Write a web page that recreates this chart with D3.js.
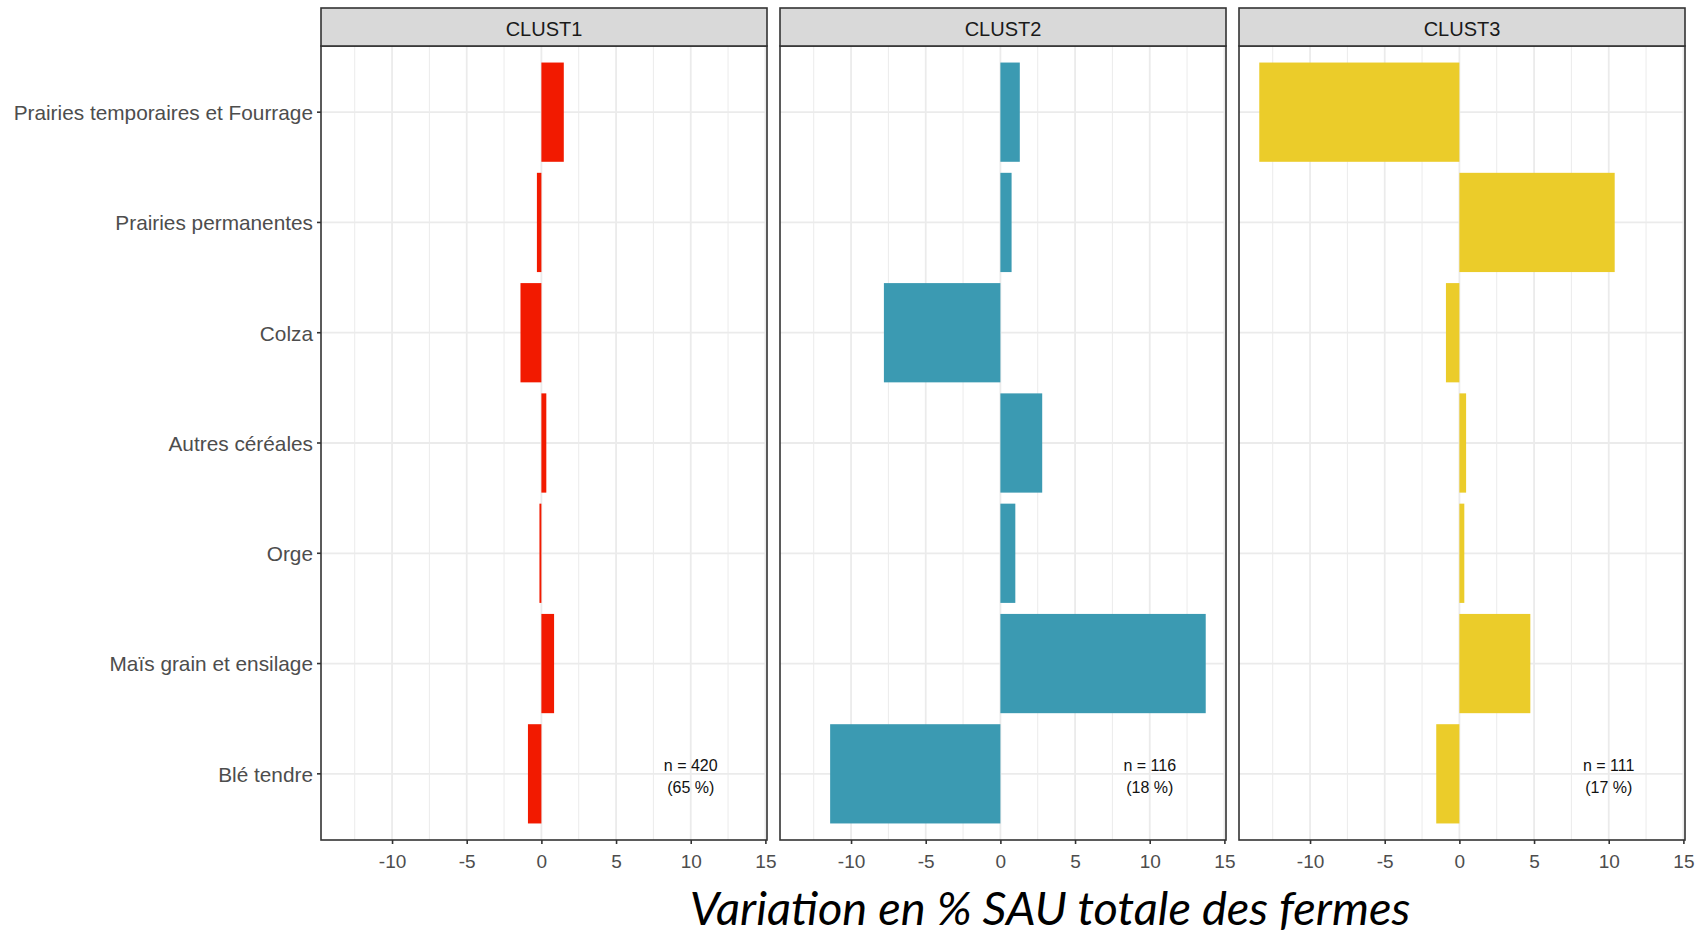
<!DOCTYPE html>
<html>
<head>
<meta charset="utf-8">
<script src="https://cdn.jsdelivr.net/npm/d3@7"></script>
<style>
  body { margin: 0; background: #fff; }
  text { font-family: "Liberation Sans", Arial, sans-serif; }
</style>
</head>
<body>
<div id="chart-container"></div>
<script>
// categories, top to bottom
const categories = ["Prairies temporaires et Fourrage", "Prairies permanentes", "Colza",
                    "Autres céréales", "Orge", "Maïs grain et ensilage", "Blé tendre"];
const clusters = ["CLUST1", "CLUST2", "CLUST3"];
const clust1 = [1.5, -0.3, -1.4, 0.33, -0.13, 0.85, -0.9];
const clust2 = [1.3, 0.75, -7.8, 2.8, 1.0, 13.75, -11.4];
const clust3 = [-13.4, 10.4, -0.9, 0.45, 0.33, 4.75, -1.55];
const nCounts = [420, 116, 111];
const nPct = [65, 18, 17];
const colors = ["#F21A00", "#3B9AB2", "#EBCC2A"];
const xTicks = [-10, -5, 0, 5, 10, 15];
const xMinor = [-12.5, -7.5, -2.5, 2.5, 7.5, 12.5];

const values = [clust1, clust2, clust3];

const W = 1702, H = 936;
const panelLeft = 321, panelW = 446, panelStep = 459;
const stripTop = 8, stripBottom = 46, panelBottom = 840;

const svg = d3.select("#chart-container")
  .append("svg")
    .attr("width", W)
    .attr("height", H);

// shared x domain with ggplot-like 5% expansion
const all = values.flat();
const lo = d3.min(all), hi = d3.max(all);
const pad = (hi - lo) * 0.05;

const y = d3.scaleBand()
  .domain(categories)
  .range([stripBottom, panelBottom])
  .paddingInner(0.1)
  .paddingOuter(0.15);

clusters.forEach(function(name, k) {
  const x0 = panelLeft + k * panelStep;
  const x = d3.scaleLinear()
    .domain([lo - pad, hi + pad])
    .range([0, panelW]);

  const g = svg.append("g")
    .attr("transform", "translate(" + x0 + ",0)");

  // grid
  g.selectAll(".minor")
    .data(xMinor)
    .enter().append("line")
      .attr("x1", d => x(d)).attr("x2", d => x(d))
      .attr("y1", stripBottom).attr("y2", panelBottom)
      .attr("stroke", "#EBEBEB").attr("stroke-width", 1);
  g.selectAll(".major")
    .data(xTicks)
    .enter().append("line")
      .attr("x1", d => x(d)).attr("x2", d => x(d))
      .attr("y1", stripBottom).attr("y2", panelBottom)
      .attr("stroke", "#EBEBEB").attr("stroke-width", 1.8);
  g.selectAll(".hgrid")
    .data(categories)
    .enter().append("line")
      .attr("x1", 0).attr("x2", panelW)
      .attr("y1", d => y(d) + y.bandwidth() / 2)
      .attr("y2", d => y(d) + y.bandwidth() / 2)
      .attr("stroke", "#EBEBEB").attr("stroke-width", 1.8);

  // bars
  g.selectAll(".bar")
    .data(categories.map((c, i) => ({cat: c, value: values[k][i]})))
    .enter().append("rect")
      .attr("x", d => x(Math.min(0, d.value)))
      .attr("y", d => y(d.cat))
      .attr("width", d => Math.abs(x(d.value) - x(0)))
      .attr("height", y.bandwidth())
      .attr("fill", colors[k]);

  // n label
  const lab = g.append("text")
    .attr("x", x(10))
    .attr("y", y(categories[categories.length - 1]) + y.bandwidth() / 2)
    .attr("text-anchor", "middle")
    .style("font-size", "16px")
    .style("fill", "#111");
  lab.append("tspan").attr("x", x(10)).attr("dy", "-0.2em").text("n = " + nCounts[k]);
  lab.append("tspan").attr("x", x(10)).attr("dy", "1.4em").text("(" + nPct[k] + " %)");

  // panel border
  g.append("rect")
    .attr("x", 0).attr("y", stripBottom)
    .attr("width", panelW).attr("height", panelBottom - stripBottom)
    .attr("fill", "none").attr("stroke", "#333").attr("stroke-width", 1.6);

  // strip
  g.append("rect")
    .attr("x", 0).attr("y", stripTop)
    .attr("width", panelW).attr("height", stripBottom - stripTop)
    .attr("fill", "#D9D9D9").attr("stroke", "#333").attr("stroke-width", 1.6);
  g.append("text")
    .attr("x", panelW / 2).attr("y", (stripTop + stripBottom) / 2)
    .attr("dy", "0.45em")
    .attr("text-anchor", "middle")
    .style("font-size", "20px")
    .style("fill", "#1A1A1A")
    .text(name);

  // x axis
  const ax = g.append("g")
    .attr("transform", "translate(0," + panelBottom + ")")
    .call(d3.axisBottom(x).tickValues(xTicks).tickSize(4).tickPadding(11).tickFormat(d => String(d)));
  ax.select(".domain").remove();
  ax.selectAll("line").attr("stroke", "#333").attr("stroke-width", 1.6);
  ax.selectAll("text").style("font-size", "19px").style("fill", "#4D4D4D")
    .style("font-family", "'Liberation Sans', Arial, sans-serif");

  // y axis only on first panel
  if (k === 0) {
    const ay = g.append("g")
      .call(d3.axisLeft(y).tickSize(4).tickPadding(4));
    ay.select(".domain").remove();
    ay.selectAll("line").attr("stroke", "#333").attr("stroke-width", 1.6);
    ay.selectAll("text").style("font-size", "20.8px").style("fill", "#4D4D4D")
      .attr("dy", "0.38em")
      .style("font-family", "'Liberation Sans', Arial, sans-serif");
  }
});

// bottom title
svg.append("text")
  .attr("x", 1050)
  .attr("y", 925)
  .attr("text-anchor", "middle")
  .style("font-family", "Lato, 'Open Sans', sans-serif")
  .style("font-style", "italic")
  .style("font-size", "47px")
  .style("fill", "#000")
  .text("Variation en % SAU totale des fermes");
</script>
</body>
</html>
